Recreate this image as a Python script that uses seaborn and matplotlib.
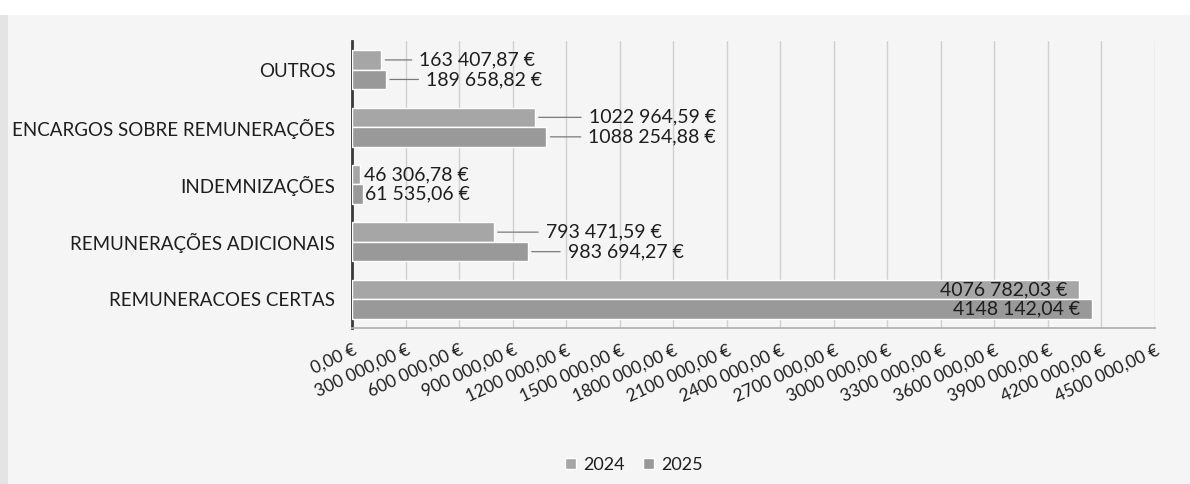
import matplotlib
matplotlib.use("Agg")
import matplotlib.pyplot as plt
import seaborn as sns
import pandas as pd
import numpy as np
from matplotlib.patches import Rectangle

categories = ["OUTROS", "ENCARGOS SOBRE REMUNERAÇÕES", "INDEMNIZAÇÕES",
              "REMUNERAÇÕES ADICIONAIS", "REMUNERACOES CERTAS"]
values_2024 = [163407.87, 1022964.59, 46306.78, 793471.59, 4076782.03]
values_2025 = [189658.82, 1088254.88, 61535.06, 983694.27, 4148142.04]
years = ["2024", "2025"]
x_ticks = list(range(0, 4500001, 300000))

df = pd.DataFrame({
    "categoria": categories * 2,
    "ano": [years[0]] * len(categories) + [years[1]] * len(categories),
    "valor": values_2024 + values_2025,
})

def fmt(v):
    cents = int(round(v * 100))
    whole, dec = divmod(cents, 100)
    hi, lo = divmod(whole, 1000)
    if hi:
        s = f"{hi} {lo:03d}"
    else:
        s = f"{lo}"
    return f"{s},{dec:02d} €"

sns.set_theme(style="white")
plt.rcParams["font.family"] = ["Lato", "DejaVu Sans"]

TXT = "#1e1e1e"
fig = plt.figure(figsize=(11.9, 4.84), dpi=100, facecolor="#f5f5f5")
fig.patches.append(Rectangle((0, 0.968), 1, 0.032, transform=fig.transFigure,
                             facecolor="white", edgecolor="none", zorder=0))
fig.patches.append(Rectangle((0, 0), 0.007, 0.968, transform=fig.transFigure,
                             facecolor="#e4e4e4", edgecolor="none", zorder=0))
ax = fig.add_axes([352/1190, 1-328/484, (1155-352)/1190, (328-41)/484])
ax.set_facecolor("none")

palette = {"2024": "#a6a6a6", "2025": "#999999"}
sns.barplot(data=df, y="categoria", x="valor", hue="ano", orient="h",
            order=categories, hue_order=years, palette=palette,
            width=0.68, edgecolor="white", linewidth=1.0, ax=ax, legend=True,
            saturation=1, zorder=3)

ax.set_xlim(0, 4500000)
ax.set_xticks(x_ticks)
ax.set_xticklabels([fmt(t) for t in x_ticks], rotation=25, ha="right",
                   rotation_mode="anchor", fontsize=12.5, color=TXT)
ax.tick_params(axis="x", length=3, color="#9a9a9a", pad=7)
ax.tick_params(axis="y", length=0, pad=12, labelsize=13.5, labelcolor=TXT)
ax.set_xlabel("")
ax.set_ylabel("")
ax.grid(axis="x", color="#d0d0d0", linewidth=1.0, zorder=0)
ax.set_axisbelow(True)
for s in ["top", "right"]:
    ax.spines[s].set_visible(False)
ax.spines["left"].set_color("#3a3a3a")
ax.spines["left"].set_linewidth(2.0)
ax.spines["bottom"].set_color("#b0b0b0")

# data labels
offsets = {
    "2024": [38, 54, 4, 52, None],
    "2025": [40, 42, 2, 40, None],
}
for cont, yr in zip(ax.containers, years):
    for i, bar in enumerate(cont):
        v = bar.get_width()
        yc = bar.get_y() + bar.get_height() / 2
        off = offsets[yr][i]
        if off is None:
            ax.annotate(fmt(v), xy=(v, yc), xytext=(-12, 0),
                        textcoords="offset pixels", ha="right", va="center",
                        fontsize=14, color=TXT, zorder=5)
        elif off <= 6:
            ax.annotate(fmt(v), xy=(v, yc), xytext=(off, 0),
                        textcoords="offset pixels", ha="left", va="center",
                        fontsize=14, color=TXT, zorder=5)
        else:
            ax.annotate(fmt(v), xy=(v, yc), xytext=(off, 0),
                        textcoords="offset pixels", ha="left", va="center",
                        fontsize=14, color=TXT, zorder=5,
                        arrowprops=dict(arrowstyle="-", color="#7a7a7a", lw=0.9,
                                        relpos=(0, 0.5), shrinkA=3, shrinkB=3))

leg = ax.get_legend()
handles = leg.legend_handles
leg.remove()
fig.legend(handles, years, loc="center", bbox_to_anchor=(634/1190, 1-465/484),
           ncol=2, frameon=False, fontsize=13, handlelength=0.6, handleheight=0.6,
           columnspacing=1.0, handletextpad=0.4, labelcolor=TXT)

fig.savefig("out.png", dpi=100, facecolor=fig.get_facecolor())
